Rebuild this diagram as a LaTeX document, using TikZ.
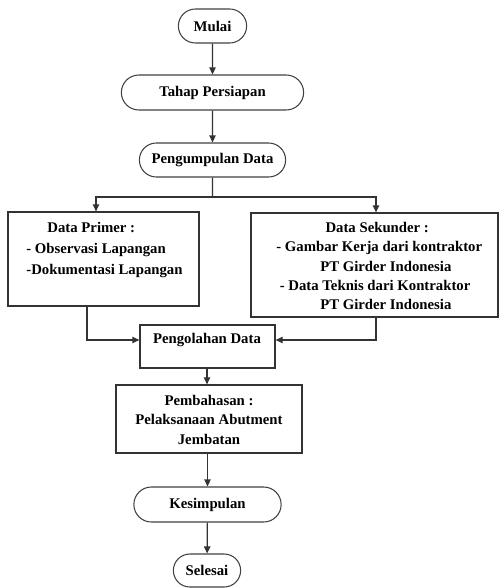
\documentclass[tikz,border=0pt]{standalone}
\usepackage{fontspec}
\setmainfont{Liberation Serif}
\usepackage{tikz}
\usetikzlibrary{positioning, arrows.meta, shapes.misc, calc}

\begin{document}
\begin{tikzpicture}[x=0.02cm, y=-0.02cm, >={Triangle[length=4pt, width=3.6pt]},
    every node/.style={font=\bfseries\fontsize{8.4}{11}\selectfont},
    terminal/.style={draw=black!75, rounded rectangle, line width=0.6pt,
                     minimum height=0.68cm},
    kotak/.style={draw=black!80, rectangle, line width=0.7pt},
    isi/.style={inner sep=0pt, align=left, anchor=north west},
    garis/.style={black!80, line width=0.7pt}]
    \useasboundingbox (0,0) rectangle (500,588);

    \node[terminal, minimum width=1.6cm] (mulai) at (212.5,26) {Mulai};
    \node[terminal, minimum width=3.88cm, minimum height=0.7cm] (tahap) at (212.5,92.5)
      {Tahap Persiapan};
    \node[terminal, minimum width=3.16cm] (kumpul) at (212.5,160)
      {Pengumpulan Data};

    \node[kotak, minimum width=3.82cm, minimum height=1.88cm] (primer) at (103.5,259) {};
    \node[isi, font=\bfseries\fontsize{8.4}{12}\selectfont] (primertxt) at (26,222)
      {\hspace*{12pt}Data Primer :\\- Observasi Lapangan\\-Dokumentasi Lapangan};
    \node[kotak, minimum width=4.94cm, minimum height=2.08cm] (sekunder) at (374.5,265) {};
    \node[isi] (sekundertxt) at (276,222)
      {\hspace*{28pt}Data Sekunder :\\- Gambar Kerja dari kontraktor\\
       \hspace*{25pt}PT Girder Indonesia\\\hspace*{2pt}- Data Teknis dari Kontraktor\\
       \hspace*{25pt}PT Girder Indonesia};

    \node[kotak, minimum width=2.7cm, minimum height=0.86cm] (olah) at (207.5,346.5) {};
    \node[inner sep=0pt] (olahtxt) at (207,340) {Pengolahan Data};
    \node[kotak, minimum width=3.72cm, minimum height=1.36cm] (bahas) at (209,419) {};
    \node[inner sep=0pt, align=center, anchor=north] (bahastxt) at (209,395)
      {Pembahasan :\\Pelaksanaan Abutment\\Jembatan};

    \node[terminal, minimum width=3.18cm, minimum height=0.7cm] (simpul) at (207.5,504.5)
      {Kesimpulan};
    \node[terminal, minimum width=1.58cm, minimum height=0.66cm] (selesai) at (207,570.5)
      {Selesai};

    \coordinate (cabang) at (212.5,197);
    \coordinate (kiri) at (96,197);
    \coordinate (kanan) at (376,197);
    \coordinate (pout) at (87,0);
    \coordinate (sout) at (376,0);

    \draw[->, garis] (mulai) -- (tahap);
    \draw[->, garis] (tahap) -- (kumpul);
    \draw[garis] (kumpul) -- (cabang);
    \draw[->, garis] (cabang) -- (kiri) -- (kiri |- primer.north);
    \draw[->, garis] (cabang) -- (kanan) -- (kanan |- sekunder.north);
    \draw[->, garis] (primer.south -| pout) |- (olah.west |- olahtxt);
    \draw[->, garis] (sekunder.south -| sout) |- (olah.east |- olahtxt);
    \draw[->, garis] (olah.south -| olahtxt) -- (olahtxt |- bahas.north);
    \draw[->, garis] (bahas.south -| simpul) -- (simpul.north);
    \draw[->, garis] (simpul) -- (selesai);
\end{tikzpicture}
\end{document}
